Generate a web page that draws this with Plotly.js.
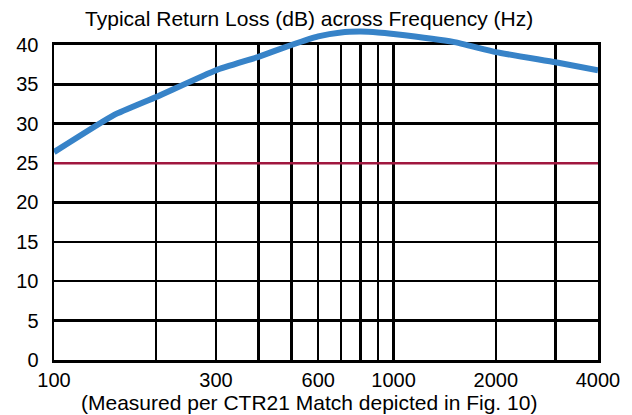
<!DOCTYPE html>
<html>
<head>
<meta charset="utf-8">
<script src="https://cdn.plot.ly/plotly-3.0.1.min.js"></script>
<style>html,body{margin:0;padding:0;background:#fff;}#chart{width:632px;height:415px;}</style>
</head>
<body>
<div id="chart"></div>
<script>
// Data
var freqHz = [100, 150, 200, 300, 400, 500, 600, 700, 800, 900, 1000, 1500, 2000, 3000, 4000];
var returnLossDb = [26.4, 31.1, 33.4, 36.8, 38.5, 40.0, 41.1, 41.6, 41.7, 41.6, 41.4, 40.4, 39.1, 37.8, 36.8];
var limitFreq = [100, 4000];
var limitDb = [25, 25];
var xTickVals = [100, 200, 300, 400, 500, 600, 700, 800, 900, 1000, 2000, 3000, 4000];
var xTickText = ['100', '', '300', '', '', '600', '', '', '', '1000', '2000', '', '4000'];
var yTickVals = [0, 5, 10, 15, 20, 25, 30, 35, 40];

var FONT = 'Liberation Sans, Arial, sans-serif';
var yTop = 40;
var mainDomainTop = 0.9403;

var traces = [
  {x: limitFreq, y: limitDb, xaxis: 'x', yaxis: 'y', mode: 'lines',
   line: {color: '#A0173F', width: 2.5}, hoverinfo: 'skip', showlegend: false},
  {x: freqHz, y: returnLossDb, xaxis: 'x2', yaxis: 'y2', mode: 'lines',
   line: {color: '#3783C8', width: 6, shape: 'spline', smoothing: 0.4}, showlegend: false}
];

var xr = [Math.log10(100), Math.log10(4000)];

var layout = {
  width: 632, height: 415,
  margin: {l: 54, r: 34, t: 25, b: 55},
  paper_bgcolor: '#fff', plot_bgcolor: 'rgba(0,0,0,0)',
  font: {family: FONT, color: '#000', size: 20},
  title: {text: 'Typical Return Loss (dB) across Frequency (Hz)',
          font: {family: FONT, size: 21, color: '#000'},
          xref: 'paper', x: 0.469, xanchor: 'center',
          yref: 'container', y: 1 - 19/415, yanchor: 'middle'},
  annotations: [{text: '(Measured per CTR21 Match depicted in Fig. 10)',
                 xref: 'paper', yref: 'paper', x: 0.469, y: -0.128,
                 xanchor: 'center', yanchor: 'middle', showarrow: false,
                 font: {size: 21, family: FONT, color: '#000'}}],
  xaxis: {type: 'log', range: xr, domain: [0, 1], anchor: 'y',
          tickmode: 'array', tickvals: xTickVals, ticktext: xTickText,
          showgrid: true, gridcolor: '#000', gridwidth: 2.5,
          showline: true, linecolor: '#000', linewidth: 2.5, mirror: true,
          ticks: '', tickfont: {size: 20, family: FONT},
          zeroline: false},
  yaxis: {range: [0, yTop], domain: [0, mainDomainTop], anchor: 'x',
          tickmode: 'array', tickvals: yTickVals,
          showgrid: true, gridcolor: '#000', gridwidth: 2.5,
          showline: true, linecolor: '#000', linewidth: 2.5, mirror: true,
          ticks: 'outside', ticklen: 9, tickcolor: 'rgba(0,0,0,0)',
          tickfont: {size: 20, family: FONT}, zeroline: false},
  xaxis2: {type: 'log', range: xr, domain: [0, 1], anchor: 'y2',
           visible: false, showgrid: false},
  yaxis2: {range: [0, yTop / mainDomainTop], domain: [0, 1], anchor: 'x2',
           visible: false, showgrid: false}
};

Plotly.newPlot('chart', traces, layout, {staticPlot: true, displayModeBar: false});
</script>
</body>
</html>
